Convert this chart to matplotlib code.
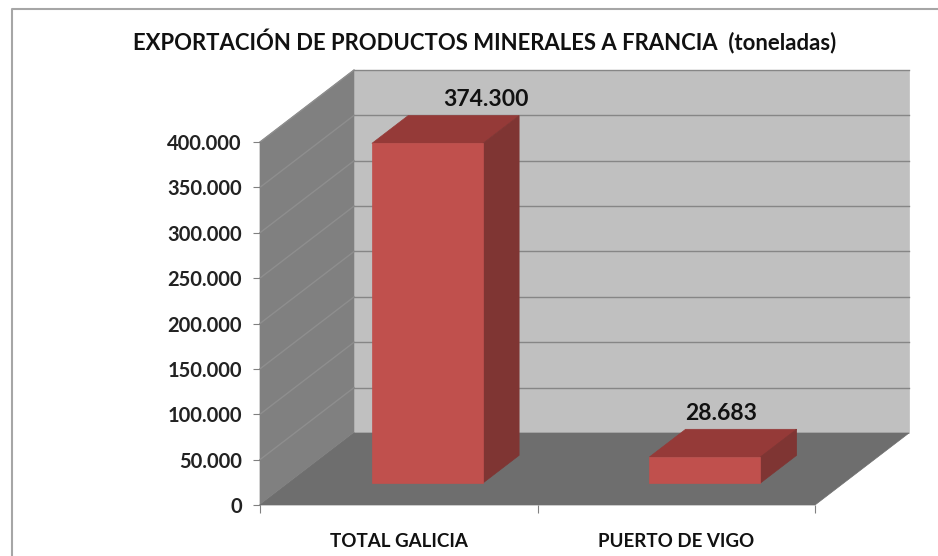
"""Bar chart with a hand-built 3D look: exports of mineral products to France."""
import matplotlib
matplotlib.use("Agg")
import matplotlib.pyplot as plt
from matplotlib.lines import Line2D
from matplotlib.patches import Polygon

categories = ["TOTAL GALICIA", "PUERTO DE VIGO"]
values = [374300, 28683]
value_labels = ["374.300", "28.683"]
y_ticks = [0, 50000, 100000, 150000, 200000, 250000, 300000, 350000, 400000]
y_tick_labels = ["0", "50.000", "100.000", "150.000", "200.000", "250.000",
                 "300.000", "350.000", "400.000"]
title = "EXPORTACIÓN DE PRODUCTOS MINERALES A FRANCIA  (toneladas)"

W, H = 938, 556
Y_MAX = 400000

# depth of the floor in data units (94 px right, 72 px up)
DEPTH_X = 94 / 555 * 2
DEPTH_Y = 72 / 363 * Y_MAX
BAR_WIDTH = 0.4
BAR_D0, BAR_D1 = 0.305, 0.69
LABEL_SHIFT = [22, -20]  # px, labels are not centred on the bar tops


def proj(x, y, d):
    return (x + d * DEPTH_X, y + d * DEPTH_Y)


plt.rcParams["font.family"] = ["Lato", "DejaVu Sans"]
fig = plt.figure(figsize=(W / 100, H / 100), dpi=100)
ax = fig.add_axes([260 / W, 1 - 505 / H, 555 / W, 363 / H])
ax.set_xlim(0, 2)
ax.set_ylim(0, Y_MAX)
for s in ax.spines.values():
    s.set_visible(False)
ax.patch.set_visible(False)


def face(pts, color, z):
    ax.add_patch(Polygon(pts, closed=True, facecolor=color, edgecolor=color,
                         linewidth=0.5, clip_on=False, zorder=z))


# walls and floor
face([proj(0, 0, 1), proj(2, 0, 1), proj(2, Y_MAX, 1), proj(0, Y_MAX, 1)], "#c0c0c0", 1)
face([proj(0, 0, 0), proj(0, 0, 1), proj(0, Y_MAX, 1), proj(0, Y_MAX, 0)], "#808080", 1)
face([proj(0, 0, 0), proj(2, 0, 0), proj(2, 0, 1), proj(0, 0, 1)], "#6e6e6e", 1.5)

# gridlines on back and side wall
for t in y_ticks:
    x0, y0 = proj(0, t, 0)
    x1, y1 = proj(0, t, 1)
    x2, y2 = proj(2, t, 1)
    ax.plot([x0, x1], [y0, y1], color="#8e8e8e", lw=1, clip_on=False, zorder=1.2)
    if t > 0:
        ax.plot([x1, x2], [y1, y2], color="#868686", lw=1, clip_on=False, zorder=1.2)

# bars
for i, v in enumerate(values):
    l = i + 0.5 - BAR_WIDTH / 2
    r = i + 0.5 + BAR_WIDTH / 2
    face([proj(l, v, BAR_D0), proj(r, v, BAR_D0), proj(r, v, BAR_D1), proj(l, v, BAR_D1)],
         "#953a38", 3)
    face([proj(r, 0, BAR_D0), proj(r, 0, BAR_D1), proj(r, v, BAR_D1), proj(r, v, BAR_D0)],
         "#7f3533", 3)
    face([proj(l, 0, BAR_D0), proj(r, 0, BAR_D0), proj(r, v, BAR_D0), proj(l, v, BAR_D0)],
         "#c0504d", 3)
    lx, ly = proj(i + 0.5, v, BAR_D1)
    ax.annotate(value_labels[i], (lx, ly), xytext=(LABEL_SHIFT[i], 16), textcoords="offset pixels",
                ha="center", va="center", fontsize=16.5, fontweight="bold",
                color="#111111", zorder=5, annotation_clip=False)

# axes ticks
ax.set_yticks(y_ticks)
ax.set_yticklabels(y_tick_labels, fontsize=14.5, fontweight="bold", color="#222222")
ax.tick_params(axis="y", length=5, width=0.8, color="#808080", pad=8)
ax.set_xticks([0, 1, 2])
ax.set_xticklabels([])
ax.set_xticks([0.5, 1.5], minor=True)
ax.set_xticklabels(categories, minor=True, fontsize=13.5, fontweight="bold", color="#111111")
ax.tick_params(axis="x", which="major", length=6, width=0.8, color="#808080")
ax.tick_params(axis="x", which="minor", length=0, pad=20)

# chart frame: only top and left edges are inside the picture
fig.add_artist(Line2D([12 / W, 12 / W, 1], [0, 1 - 9 / H, 1 - 9 / H],
                      transform=fig.transFigure, color="#a6a6a6", linewidth=1.5))
fig.text(485 / W, 1 - 42 / H, title, ha="center", va="center", fontsize=15.9,
         fontweight="bold", color="#111111")

fig.savefig("out.png", dpi=100)
